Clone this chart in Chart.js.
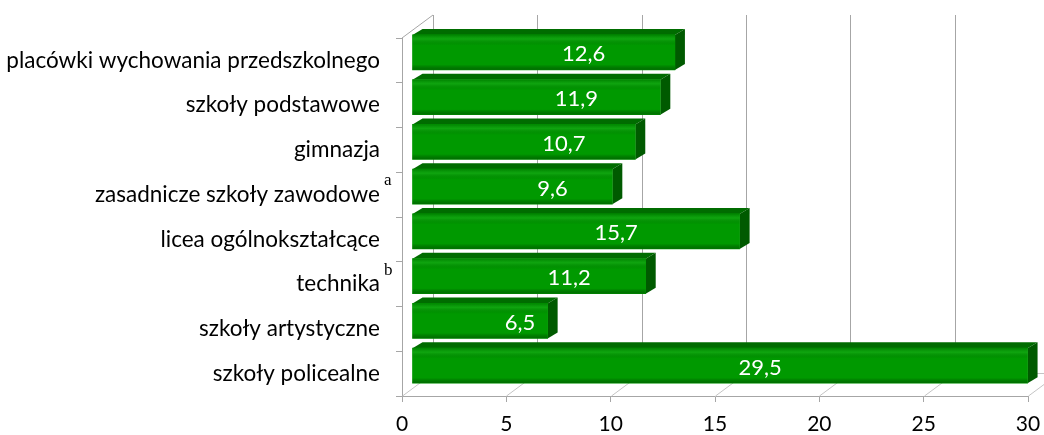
<!DOCTYPE html>
<html><head><meta charset="utf-8">
<script src="https://cdn.jsdelivr.net/npm/chart.js@4"></script>
<style>html,body{margin:0;padding:0;background:#fff}#wrap{width:1044px;height:435px}</style>
</head><body><div id="wrap"><canvas id="c" width="1044" height="435"></canvas></div>
<script>
const categories = ['placówki wychowania przedszkolnego','szkoły podstawowe','gimnazja','zasadnicze szkoły zawodowe','licea ogólnokształcące','technika','szkoły artystyczne','szkoły policealne'];
const footnotes = ['','','','a','','b','',''];
const values = [12.6,11.9,10.7,9.6,15.7,11.2,6.5,29.5];
const valueLabels = ['12,6','11,9','10,7','9,6','15,7','11,2','6,5','29,5'];
const xTicks = [0,5,10,15,20,25,30];

const FONT = 'Lato';
const DEPTH = {dx:31, dy:-23};
const BAR_OFF = {dx:10, dy:-8};
const BAR_DEPTH = {dx:10, dy:-6};

function line(ctx,x1,y1,x2,y2){ctx.beginPath();ctx.moveTo(x1,y1);ctx.lineTo(x2,y2);ctx.stroke();}
function poly(ctx,pts){ctx.beginPath();ctx.moveTo(pts[0][0],pts[0][1]);for(let i=1;i<pts.length;i++)ctx.lineTo(pts[i][0],pts[i][1]);ctx.closePath();ctx.fill();}

const threeD = {
  id:'threeD',
  beforeDatasetsDraw(chart){
    const {ctx, chartArea:a, scales:{x}} = chart;
    ctx.save();
    ctx.lineWidth = 1;
    ctx.strokeStyle = '#c4c4c4';
    line(ctx, a.left+DEPTH.dx, a.bottom+DEPTH.dy+0.5, a.right+DEPTH.dx, a.bottom+DEPTH.dy+0.5);
    xTicks.forEach(v=>{const px=Math.round(x.getPixelForValue(v))+0.5; line(ctx,px,a.bottom,px+DEPTH.dx,a.bottom+DEPTH.dy);});
    ctx.strokeStyle = '#a6a6a6';
    xTicks.forEach(v=>{const px=Math.round(x.getPixelForValue(v)+DEPTH.dx)+0.5; line(ctx,px,a.top+DEPTH.dy,px,a.bottom+DEPTH.dy);});
    line(ctx, a.left, a.top, a.left+DEPTH.dx, a.top+DEPTH.dy);
    const meta = chart.getDatasetMeta(0);
    meta.data.forEach(bar=>{
      const p = bar.getProps(['x','y','base','height'], true);
      const top = p.y - p.height/2 + BAR_OFF.dy, bot = p.y + p.height/2 + BAR_OFF.dy;
      const l = p.base + BAR_OFF.dx, r = p.x + BAR_OFF.dx;
      ctx.fillStyle = '#006c00';
      poly(ctx, [[l,top],[l+BAR_DEPTH.dx,top+BAR_DEPTH.dy],[r+BAR_DEPTH.dx,top+BAR_DEPTH.dy],[r,top]]);
      ctx.fillStyle = '#005a00';
      poly(ctx, [[r,top],[r+BAR_DEPTH.dx,top+BAR_DEPTH.dy],[r+BAR_DEPTH.dx,bot+BAR_DEPTH.dy],[r,bot]]);
    });
    ctx.translate(BAR_OFF.dx, BAR_OFF.dy);
  },
  afterDatasetsDraw(chart){
    const {ctx, scales:{x,y}} = chart;
    const meta = chart.getDatasetMeta(0);
    meta.data.forEach(bar=>{
      const p = bar.getProps(['x','y','base','height'], true);
      const top = p.y - p.height/2, h = p.height;
      const g = ctx.createLinearGradient(0, top, 0, top+h);
      g.addColorStop(0, 'rgba(0,90,0,0.35)');
      g.addColorStop(0.12, 'rgba(60,200,60,0.25)');
      g.addColorStop(0.3, 'rgba(0,0,0,0)');
      g.addColorStop(0.85, 'rgba(0,0,0,0)');
      g.addColorStop(1, 'rgba(0,60,0,0.45)');
      ctx.fillStyle = g;
      ctx.fillRect(p.base, top, p.x - p.base, h);
    });
    ctx.fillStyle = '#ffffff';
    ctx.font = '22px ' + FONT;
    ctx.textAlign = 'center';
    ctx.textBaseline = 'middle';
    meta.data.forEach((bar,i)=>{
      const p = bar.getProps(['x','y','base'], true);
      ctx.fillText(valueLabels[i], (p.x + p.base)/2 + 40, p.y + 2);
    });
    ctx.restore();
    ctx.save();
    ctx.fillStyle = '#000';
    ctx.font = '17px "Liberation Serif"';
    ctx.textAlign = 'left';
    ctx.textBaseline = 'middle';
    footnotes.forEach((f,i)=>{
      if(!f) return;
      const py = y.getPixelForValue(i);
      ctx.fillText(f, y.right - 6 - 16 + 4, py - 14);
    });
    ctx.restore();
  }
};

new Chart(document.getElementById('c'), {
  type:'bar',
  data:{labels:categories, datasets:[{data:values, backgroundColor:'#009900', borderWidth:0, barThickness:35}]},
  options:{
    indexAxis:'y',
    responsive:false, animation:false,
    layout:{padding:{top:38, right:13, left:0, bottom:0}},
    plugins:{legend:{display:false}, tooltip:{enabled:false}},
    scales:{
      x:{min:0,max:30,
        afterBuildTicks(s){s.ticks = xTicks.map(v=>({value:v}));},
        afterFit(s){s.height = 39; s.paddingRight = 16;},
        ticks:{font:{family:FONT,size:21}, color:'#000', padding:10},
        grid:{drawOnChartArea:false, drawTicks:true, tickLength:6, color:'#a6a6a6'},
        border:{color:'#a6a6a6'}
      },
      y:{
        afterFit(s){s.width = 402;},
        ticks:{font:{family:FONT,size:22.5}, color:'#000', padding:16},
        grid:{offset:true, drawOnChartArea:false, drawTicks:true, tickLength:6, color:'#a6a6a6'},
        border:{color:'#a6a6a6'}
      }
    }
  },
  plugins:[threeD]
});
</script></body></html>
